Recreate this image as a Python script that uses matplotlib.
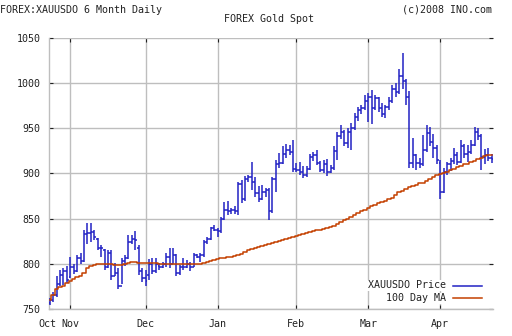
import matplotlib
matplotlib.use("Agg")
import matplotlib.pyplot as plt
from matplotlib.lines import Line2D

# ---- data (trading-day index 0..129, Oct 24 2007 .. Apr 2008) ----
opens = [757, 760, 765, 778, 788, 792,
         785, 797, 792, 806, 803, 833, 834, 835, 828, 818, 815, 797, 812, 786, 790, 776, 803, 806, 824, 828, 818, 792,
         784, 788, 800, 792, 798, 796, 800, 808, 800, 810, 790, 796, 797, 800, 796, 810, 808, 810, 824, 828, 840,
         838, 836, 850, 860, 858, 860, 858, 888, 872, 894, 896, 891, 878, 872, 880, 882, 858, 894, 910, 912, 922, 926, 924,
         905, 904, 902, 898, 905, 918, 920, 912, 904, 910, 902, 906, 925, 942, 946, 934, 946, 950, 962, 970, 972,
         980, 985, 972, 984, 972, 966, 974, 980, 994, 990, 1008, 1002, 985, 912, 920, 912, 910, 926, 945, 935, 928,
         912, 880, 902, 910, 914, 920, 913, 930, 922, 924, 932, 946, 942, 918, 920, 917]
highs = [762, 769, 786, 793, 795, 798,
         808, 800, 810, 812, 837, 845, 845, 837, 829, 821, 816, 815, 815, 801, 795, 806, 810, 832, 832, 836, 821, 795,
         793, 805, 806, 806, 801, 802, 812, 817, 817, 811, 799, 806, 804, 802, 812, 811, 812, 826, 830, 841, 843,
         840, 852, 869, 870, 862, 864, 891, 893, 897, 898, 913, 896, 886, 887, 884, 884, 896, 915, 923, 930, 933, 932, 937,
         912, 913, 908, 908, 922, 924, 926, 914, 915, 916, 909, 930, 946, 954, 948, 950, 956, 967, 974, 976, 987,
         989, 992, 987, 985, 978, 976, 985, 998, 1000, 1016, 1033, 1005, 991, 939, 922, 917, 943, 954, 952, 944, 932,
         915, 906, 913, 917, 928, 924, 937, 933, 931, 937, 952, 950, 944, 927, 928, 922]
lows = [754, 758, 763, 776, 777, 779,
        784, 789, 791, 800, 802, 822, 824, 826, 815, 808, 793, 795, 782, 786, 772, 778, 798, 805, 822, 815, 788, 780,
        776, 782, 789, 790, 793, 795, 797, 795, 800, 786, 788, 793, 795, 792, 796, 806, 802, 808, 822, 826, 836,
        830, 834, 848, 854, 855, 855, 854, 867, 870, 891, 882, 874, 869, 871, 874, 848, 856, 880, 906, 911, 917, 920, 902,
        902, 898, 895, 896, 904, 914, 909, 902, 900, 897, 900, 904, 915, 938, 930, 928, 926, 948, 958, 966, 970,
        957, 955, 970, 968, 963, 961, 970, 978, 985, 988, 994, 976, 906, 906, 904, 906, 908, 924, 930, 917, 911,
        872, 878, 898, 903, 910, 909, 912, 917, 913, 922, 930, 937, 904, 911, 914, 912]
closes = [760, 765, 778, 788, 792, 782,
          797, 792, 806, 803, 833, 834, 835, 830, 818, 817, 797, 812, 786, 790, 776, 803, 806, 824, 828, 826, 792, 784,
          781, 800, 792, 800, 796, 800, 808, 800, 810, 790, 796, 797, 800, 796, 810, 808, 810, 824, 828, 840, 838,
          836, 850, 860, 858, 860, 858, 888, 872, 894, 896, 891, 878, 872, 880, 882, 858, 894, 910, 912, 922, 926, 924, 905,
          904, 902, 898, 905, 918, 920, 912, 904, 910, 902, 906, 925, 942, 946, 934, 946, 950, 962, 970, 972, 980,
          985, 972, 984, 972, 966, 974, 980, 994, 990, 1008, 1002, 985, 912, 920, 912, 910, 926, 945, 935, 928, 915,
          880, 902, 910, 914, 920, 913, 930, 922, 924, 932, 946, 942, 918, 920, 917, 916]
ma100 = [760, 766, 772, 774, 776, 779, 781, 783, 785, 787, 790, 795, 798, 799,
         800, 800, 800, 800, 800, 799, 799, 799, 800, 801, 802, 802, 801, 801,
         801, 801, 801, 801, 800, 800, 800, 800, 800, 800, 800, 800, 800, 800, 800, 800, 800, 801, 802, 803, 804,
         805, 806, 807, 808, 808, 809, 810, 811, 813, 815, 816, 818, 819, 820, 821, 822, 823, 824, 825, 826, 828, 829, 830,
         831, 832, 833, 834, 835, 836, 837, 838, 839, 840, 841, 842, 844, 846, 848, 850, 852, 854, 856, 858, 860,
         862, 864, 865, 867, 868, 870, 872, 873, 876, 879, 881, 883, 885, 886, 887, 889, 890, 892, 894, 896, 898,
         899, 901, 902, 904, 905, 907, 908, 910, 911, 913, 914, 916, 917, 919, 920, 921]
month_labels = ["Nov", "Dec", "Jan", "Feb", "Mar", "Apr"]
month_starts = [6, 28, 49, 72, 93, 114]
first_label = "Oct"
y_ticks = [750, 800, 850, 900, 950, 1000, 1050]

plt.rcParams['font.family'] = ['DejaVu Sans Mono']
plt.rcParams['font.size'] = 7.2

W, H = 512, 336
fig = plt.figure(figsize=(W / 100, H / 100), dpi=100)
fig.patch.set_facecolor('white')
ax = fig.add_axes([49 / W, 1 - 309 / H, (493 - 49) / W, (309 - 38) / H])

BLUE = '#2222C4'
ORANGE = '#C44000'
GRID = '#BEBEBE'
TXT = '#222222'

n = len(closes)
xs = list(range(n))
ax.vlines(xs, lows, highs, color=BLUE, linewidth=1.1, zorder=3)
ax.hlines(opens, [x - 0.5 for x in xs], xs, color=BLUE, linewidth=1.1, zorder=3)
ax.hlines(closes, xs, [x + 0.5 for x in xs], color=BLUE, linewidth=1.1, zorder=3)
ax.plot(xs, ma100, color=ORANGE, linewidth=1.1, zorder=4, drawstyle='steps-mid')

ax.set_xlim(-0.2, 129.4)
ax.set_ylim(750, 1050)
ax.set_yticks(y_ticks)
ax.set_xticks(month_starts)
ax.set_xticklabels(month_labels)
ax.grid(True, color=GRID, linewidth=1.0)
ax.set_axisbelow(True)
ax.tick_params(axis='both', direction='in', length=3, width=0.8, color=TXT,
               labelcolor=TXT)
ax.tick_params(axis='y', left=True, right=True, pad=6)
ax.tick_params(axis='x', bottom=True, top=True, pad=7)
for s in ['top', 'right']:
    ax.spines[s].set_visible(False)
for s in ['left', 'bottom']:
    ax.spines[s].set_color(GRID)
    ax.spines[s].set_linewidth(1.0)

def px(x, y):
    return x / W, 1 - y / H

# first month label (no tick), aligned with the other month labels
fig.text(*px(47, 309 + 7 * 100 / 72), first_label, ha='center', va='top', color=TXT)

fig.text(*px(0, 10), "FOREX:XAUUSDO 6 Month Daily", ha='left', va='center', color=TXT)
fig.text(*px(268.5, 19), "FOREX Gold Spot", ha='center', va='center', color=TXT)
fig.text(*px(492, 10), "(c)2008 INO.com", ha='right', va='center', color=TXT)

# legend
fig.text(*px(446, 285.5), "XAUUSDO Price", ha='right', va='center', color=TXT,
         bbox=dict(facecolor='white', edgecolor='none', pad=0.5), zorder=5)
fig.text(*px(446, 298.3), "100 Day MA", ha='right', va='center', color=TXT,
         bbox=dict(facecolor='white', edgecolor='none', pad=0.5), zorder=5)
fig.add_artist(Line2D([453 / W, 482 / W], [1 - 285.5 / H] * 2, color=BLUE, linewidth=1.1))
fig.add_artist(Line2D([453 / W, 482 / W], [1 - 298.3 / H] * 2, color=ORANGE, linewidth=1.1))

fig.savefig("out.png", dpi=100, facecolor='white')
